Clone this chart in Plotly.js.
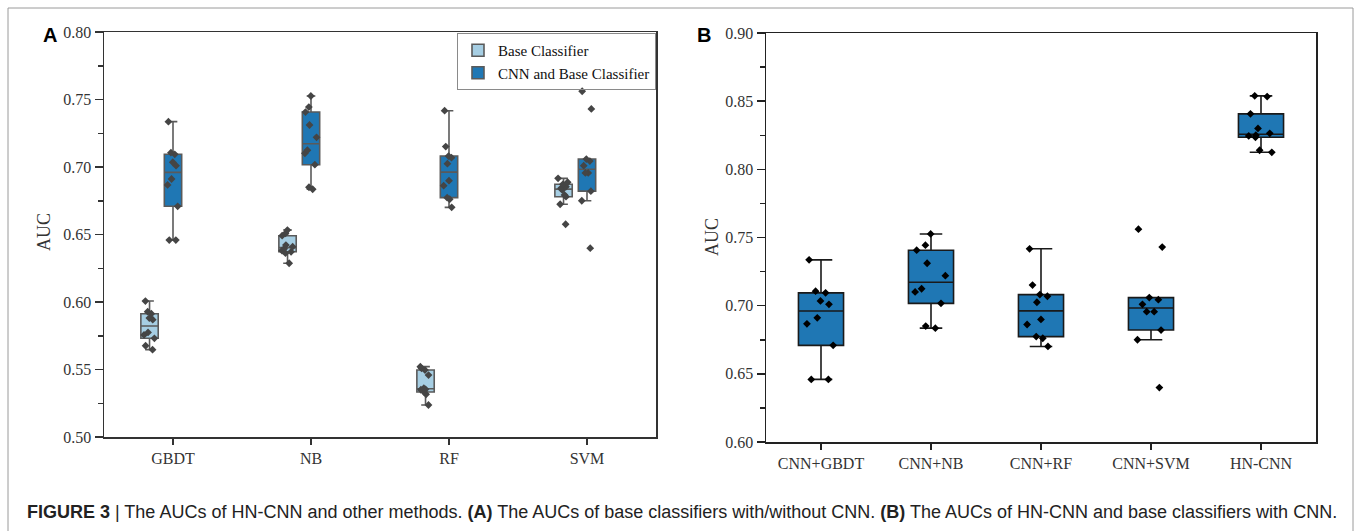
<!DOCTYPE html>
<html>
<head>
<meta charset="utf-8">
<script src="https://cdn.plot.ly/plotly-3.0.1.min.js"></script>
<style>html,body{margin:0;padding:0;background:#fff;}#chart{width:1360px;height:531px;}</style>
</head>
<body>
<div id="chart"></div>
<script>
// ---- data ----
const categoriesA = ['GBDT', 'NB', 'RF', 'SVM'];
const categoriesB = ['CNN+GBDT', 'CNN+NB', 'CNN+RF', 'CNN+SVM', 'HN-CNN'];

const baseGBDT = [0.6007, 0.5928, 0.5913, 0.5881, 0.5869, 0.5775, 0.5756, 0.5731, 0.5676, 0.5647];
const baseNB   = [0.6533, 0.6509, 0.6491, 0.6422, 0.6410, 0.6395, 0.6380, 0.6372, 0.6362, 0.6287];
const baseRF   = [0.5521, 0.5509, 0.5496, 0.5459, 0.5361, 0.5353, 0.5350, 0.5333, 0.5316, 0.5237];
const baseSVM  = [0.6916, 0.6887, 0.6872, 0.6854, 0.6842, 0.6830, 0.6793, 0.6780, 0.6724, 0.6576];

const cnnGBDT = [0.7336, 0.7106, 0.7094, 0.7035, 0.7010, 0.6911, 0.6867, 0.6709, 0.6459, 0.6459];
const cnnNB   = [0.7526, 0.7444, 0.7407, 0.7311, 0.7220, 0.7124, 0.7101, 0.7017, 0.6850, 0.6835];
const cnnRF   = [0.7417, 0.7151, 0.7081, 0.7069, 0.7025, 0.6899, 0.6862, 0.6773, 0.6761, 0.6701];
const cnnSVM  = [0.7561, 0.7430, 0.7059, 0.7044, 0.7010, 0.6956, 0.6956, 0.6821, 0.6750, 0.6399];
const hnCNN   = [0.8539, 0.8534, 0.8407, 0.8300, 0.8264, 0.8250, 0.8245, 0.8235, 0.8140, 0.8125];

const legendNames = ['Base Classifier', 'CNN and Base Classifier'];
const yTitle = 'AUC';
const caption = '<b>FIGURE 3</b> | The AUCs of HN-CNN and other methods. <b>(A)</b> The AUCs of base classifiers with/without CNN. <b>(B)</b> The AUCs of HN-CNN and base classifiers with CNN.';

// ---- helpers ----
function expand(cats, groups) {
  const x = [], y = [];
  cats.forEach((c, i) => groups[i].forEach(v => { x.push(c); y.push(v); }));
  return {x, y};
}

const W = 1360, H = 531;
const px = v => v / W;
const py = v => 1 - v / H;

const LIGHT = '#a6cee3';
const DARK = '#1f77b4';
const serif = 'Liberation Serif, Times New Roman, serif';
const sans = 'Liberation Sans, Arial, sans-serif';

const a1 = expand(categoriesA, [baseGBDT, baseNB, baseRF, baseSVM]);
const a2 = expand(categoriesA, [cnnGBDT, cnnNB, cnnRF, cnnSVM]);
const b1 = expand(categoriesB, [cnnGBDT, cnnNB, cnnRF, cnnSVM, hnCNN]);

const common = {
  type: 'box', boxpoints: 'all', jitter: 0.75, pointpos: 0,
  quartilemethod: 'exclusive', whiskerwidth: 0.5, hoverinfo: 'y'
};

const traces = [
  Object.assign({}, common, {
    name: legendNames[0], x: a1.x, y: a1.y, xaxis: 'x', yaxis: 'y',
    fillcolor: LIGHT, line: {color: '#5a5a5a', width: 1.6},
    marker: {symbol: 'diamond', size: 6, color: '#454545'}
  }),
  Object.assign({}, common, {
    name: legendNames[1], x: a2.x, y: a2.y, xaxis: 'x', yaxis: 'y',
    fillcolor: DARK, line: {color: '#5a5a5a', width: 1.6},
    marker: {symbol: 'diamond', size: 6, color: '#454545'}
  }),
  Object.assign({}, common, {
    name: 'CNN', showlegend: false, x: b1.x, y: b1.y, xaxis: 'x2', yaxis: 'y2',
    width: 0.41,
    fillcolor: DARK, line: {color: '#1a1a1a', width: 1.6},
    marker: {symbol: 'diamond', size: 6, color: '#000'}
  })
];

const tickFont = {family: serif, size: 16, color: '#333'};
const axisBase = {
  showline: true, linecolor: '#333', linewidth: 1.5, showgrid: false, zeroline: false,
  ticks: 'outside', tickcolor: '#333', tickwidth: 1.5, tickfont: tickFont, fixedrange: true
};

const layout = {
  width: W, height: H, autosize: false,
  margin: {l: 0, r: 0, t: 0, b: 0},
  paper_bgcolor: '#fff', plot_bgcolor: '#fff',
  boxmode: 'group', boxgap: 0.49, boxgroupgap: 0.26,
  showlegend: true,
  legend: {
    x: px(656), xanchor: 'right', y: py(33), yanchor: 'top',
    bordercolor: '#8a8a8a', borderwidth: 1, bgcolor: 'rgba(255,255,255,0)',
    font: {family: serif, size: 15, color: '#111'}, tracegroupgap: 0, itemwidth: 30
  },
  xaxis: Object.assign({}, axisBase, {
    domain: [px(104), px(656)], anchor: 'y', type: 'category',
    categoryorder: 'array', categoryarray: categoriesA, range: [-0.5, 3.5],
    mirror: true, ticklen: 6
  }),
  yaxis: Object.assign({}, axisBase, {
    domain: [py(437), py(32)], anchor: 'x', range: [0.5, 0.8], dtick: 0.05, tick0: 0.5,
    tickformat: '.2f', mirror: true, ticklen: 8,
    minor: {dtick: 0.025, tick0: 0.5, ticks: 'outside', ticklen: 5, tickcolor: '#333', tickwidth: 1.5, showgrid: false}
  }),
  xaxis2: Object.assign({}, axisBase, {
    domain: [px(766), px(1316)], anchor: 'y2', type: 'category',
    categoryorder: 'array', categoryarray: categoriesB, range: [-0.5, 4.5],
    mirror: true, ticklen: 6, linecolor: '#222', tickcolor: '#222'
  }),
  yaxis2: Object.assign({}, axisBase, {
    domain: [py(442), py(33)], anchor: 'x2', range: [0.6, 0.9], dtick: 0.05, tick0: 0.6,
    tickformat: '.2f', mirror: true, ticklen: 8, linecolor: '#222', tickcolor: '#222',
    minor: {dtick: 0.025, tick0: 0.6, ticks: 'outside', ticklen: 5, tickcolor: '#222', tickwidth: 1.5, showgrid: false}
  }),
  xaxis3: {
    overlaying: 'x2', side: 'top', anchor: 'y2', range: [-0.5, 4.5],
    tickmode: 'array', tickvals: [0, 1, 2, 3, 4], showticklabels: false,
    ticks: 'inside', ticklen: 6, tickwidth: 1.5, tickcolor: '#222',
    showline: false, showgrid: false, zeroline: false, fixedrange: true
  },
  yaxis3: {
    overlaying: 'y2', side: 'right', anchor: 'x2', range: [0.6, 0.9], dtick: 0.05, tick0: 0.6,
    showticklabels: false, ticks: 'inside', ticklen: 8, tickwidth: 1.5, tickcolor: '#222',
    minor: {dtick: 0.025, tick0: 0.6, ticks: 'inside', ticklen: 5, tickcolor: '#222', tickwidth: 1.5, showgrid: false},
    showline: false, showgrid: false, zeroline: false, fixedrange: true
  },
  annotations: [
    {text: '<b>A</b>', xref: 'paper', yref: 'paper', x: px(50), y: py(35), showarrow: false,
     xanchor: 'center', yanchor: 'middle', font: {family: sans, size: 20, color: '#000'}},
    {text: '<b>B</b>', xref: 'paper', yref: 'paper', x: px(704), y: py(35), showarrow: false,
     xanchor: 'center', yanchor: 'middle', font: {family: sans, size: 20, color: '#000'}},
    {text: yTitle, xref: 'paper', yref: 'paper', x: px(44), y: py(232), showarrow: false, textangle: -90,
     xanchor: 'center', yanchor: 'middle', font: {family: serif, size: 18, color: '#333'}},
    {text: yTitle, xref: 'paper', yref: 'paper', x: px(712), y: py(237), showarrow: false, textangle: -90,
     xanchor: 'center', yanchor: 'middle', font: {family: serif, size: 18, color: '#333'}},
    {text: caption, xref: 'paper', yref: 'paper', x: px(25), y: py(512), showarrow: false,
     xanchor: 'left', yanchor: 'middle', font: {family: sans, size: 18, color: '#222'}}
  ],
  shapes: [
    {type: 'line', xref: 'paper', yref: 'paper', x0: px(8), x1: px(1353), y0: py(8), y1: py(8), line: {color: '#9a9a9a', width: 1}},
    {type: 'line', xref: 'paper', yref: 'paper', x0: px(8), x1: px(8), y0: py(8), y1: py(545), line: {color: '#9a9a9a', width: 1}},
    {type: 'line', xref: 'paper', yref: 'paper', x0: px(1353), x1: px(1353), y0: py(8), y1: py(545), line: {color: '#9a9a9a', width: 1}}
  ]
};

Plotly.newPlot('chart', traces, layout, {staticPlot: true, displayModeBar: false});
</script>
</body>
</html>
